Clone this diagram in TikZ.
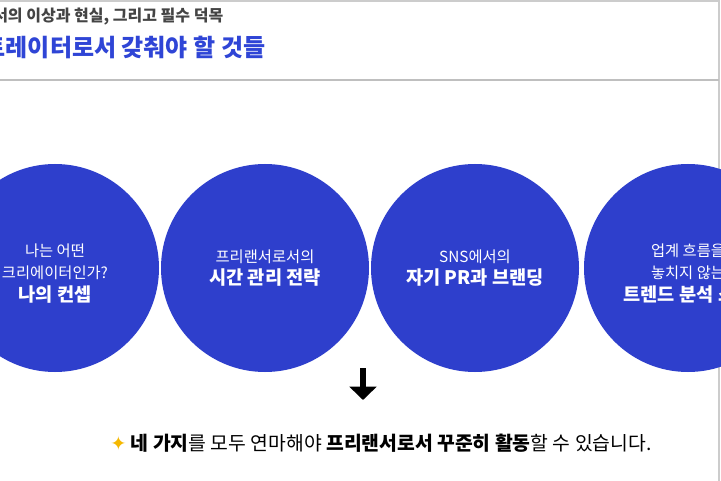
\documentclass[tikz,border=0pt]{standalone}
\usepackage{fontspec}
\setmainfont{Noto Sans CJK KR}
\newfontfamily\dejavu{DejaVu Sans}
\usetikzlibrary{arrows.meta}
\definecolor{cblue}{HTML}{2E3FCC}
\definecolor{tblue}{HTML}{2F45D6}
\definecolor{hgray}{HTML}{444444}
\definecolor{star}{HTML}{F5B800}
\tikzset{circ/.style={circle,fill=cblue,minimum size=208*0.75pt,inner sep=0pt},
 ctext/.style={text=white,align=center,font=\fontsize{11.5}{17}\selectfont}}
\newcommand\ctb[1]{{\bfseries\fontsize{14}{17}\selectfont #1}}
\begin{document}
\begin{tikzpicture}[x=0.75pt,y=-0.75pt]
\useasboundingbox (0,0) rectangle (721,481);
\clip (0,0) rectangle (721,481);
\fill[white] (0,0) rectangle (721,481);
\draw[gray!40,line width=1.5pt] (0,1) -- (719,1) -- (719,481);
\draw[gray!50,line width=0.8pt] (0,80) -- (719,80);
\node[anchor=east,text=hgray,font=\bfseries\fontsize{12}{14}\selectfont] (h1) at (228,17) {프리랜서의 이상과 현실, 그리고 필수 덕목};
\node[anchor=east,text=tblue,font=\bfseries\fontsize{18}{22}\selectfont] (h2) at (270,47) {프리랜서 일러스트레이터로서 갖춰야 할 것들};
\node[circ] (c1) at (55,268) {};
\node[circ] (c2) at (265,268) {};
\node[circ] (c3) at (475,268) {};
\node[circ] (c4) at (688,268) {};
\node[ctext] (t1) at ([yshift=-4]c1) {나는 어떤\\크리에이터인가?\\\ctb{나의 컨셉}};
\node[ctext] (t2) at (c2) {프리랜서로서의\\\ctb{시간 관리 전략}};
\node[ctext] (t3) at (c3) {SNS에서의\\\ctb{자기 PR과 브랜딩}};
\node[ctext] (t4) at ([yshift=-4]c4) {업계 흐름을\\놓치지 않는\\\ctb{트렌드 분석 스킬}};
\coordinate (a1) at (363,368);
\coordinate (a2) at (363,400);
\draw[-{Triangle[width=20pt,length=10pt]},line width=5pt] (a1) -- (a2);
\node[font=\fontsize{14.5}{17}\selectfont] (bt) at (381,443) {{\dejavu\color{star}✦} {\bfseries 네 가지}를 모두 연마해야 {\bfseries 프리랜서로서 꾸준히 활동}할 수 있습니다.};
\end{tikzpicture}
\end{document}
